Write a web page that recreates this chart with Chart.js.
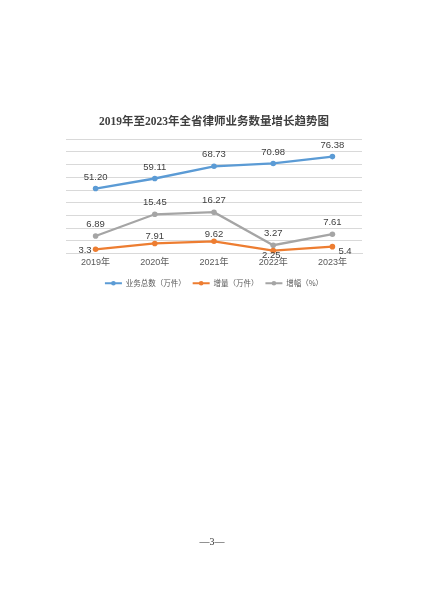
<!DOCTYPE html>
<html>
<head>
<meta charset="utf-8">
<script src="https://cdn.jsdelivr.net/npm/chart.js@4/dist/chart.umd.min.js"></script>
<style>
  html, body { margin: 0; padding: 0; background: #fff; }
  #wrap { position: relative; width: 424px; height: 600px; }
  #lawChart { display: block; }
  #pageNo {
    position: absolute; top: 536px; left: 0; width: 424px;
    text-align: center; font: 10px 'Liberation Serif', serif; color: #333;
  }
</style>
</head>
<body>
<div id="wrap">
  <canvas id="lawChart" width="424" height="600"></canvas>
  <div id="pageNo">—3—</div>
</div>
<script>
// chart data
const years = ['2019年', '2020年', '2021年', '2022年', '2023年'];
const totalCases = [51.20, 59.11, 68.73, 70.98, 76.38];   // 业务总数（万件）
const increase = [3.3, 7.91, 9.62, 2.25, 5.4];            // 增量（万件）
const growthRate = [6.89, 15.45, 16.27, 3.27, 7.61];      // 增幅（%）

// where each series puts its value labels
const labelSpots = {
    0: ['above', 'above', 'above', 'above', 'above'],
    1: ['left', 'above', 'above', 'below', 'right'],
    2: ['above', 'above', 'above', 'above', 'above']
};

/**
 * plugin that writes the value next to every point
 */
const valueLabels = {
    id: 'valueLabels',
    afterDatasetsDraw(chart) {
        const ctx = chart.ctx;
        ctx.save();
        ctx.font = "9.5px 'Liberation Sans', sans-serif";
        ctx.fillStyle = '#404040';
        chart.data.datasets.forEach((ds, i) => {
            const meta = chart.getDatasetMeta(i);
            meta.data.forEach((pt, j) => {
                const text = ds.fmt(ds.data[j]);
                const spot = labelSpots[i][j];
                let x = pt.x, y = pt.y;
                ctx.textBaseline = 'middle';
                ctx.textAlign = 'center';
                if (spot === 'above') {
                    y -= (i === 1 ? 7 : 11.5);
                } else if (spot === 'below') {
                    y += 5; x -= 2;
                } else if (spot === 'left') {
                    ctx.textAlign = 'right'; x -= 4; y += 1.5;
                } else if (spot === 'right') {
                    ctx.textAlign = 'left'; x += 6; y += 4.5;
                }
                ctx.fillText(text, x, y);
            });
        });
        ctx.restore();
    }
};

/**
 * plugin that puts a small marker dot on each legend line
 */
const legendDots = {
    id: 'legendDots',
    afterDraw(chart) {
        const legend = chart.legend;
        if (!legend || !legend.legendHitBoxes) return;
        const ctx = chart.ctx;
        ctx.save();
        legend.legendHitBoxes.forEach((box, i) => {
            ctx.fillStyle = chart.data.datasets[i].borderColor;
            ctx.beginPath();
            ctx.arc(box.left + 8.5, box.top + box.height / 2, 2.3, 0, Math.PI * 2);
            ctx.fill();
        });
        ctx.restore();
    }
};

const ctx = document.getElementById('lawChart').getContext('2d');
const lawChart = new Chart(ctx, {
    type: 'line',
    data: {
        labels: years,
        datasets: [{
            label: '业务总数（万件）',
            data: totalCases,
            borderColor: '#5b9bd5',
            backgroundColor: '#5b9bd5',
            yAxisID: 'y',
            fmt: v => v.toFixed(2)
        }, {
            label: '增量（万件）',
            data: increase,
            borderColor: '#ed7d31',
            backgroundColor: '#ed7d31',
            yAxisID: 'y',
            fmt: v => String(v)
        }, {
            label: '增幅（%）',
            data: growthRate,
            borderColor: '#a5a5a5',
            backgroundColor: '#a5a5a5',
            yAxisID: 'y2',
            fmt: v => String(v)
        }]
    },
    options: {
        responsive: false,
        animation: false,
        devicePixelRatio: 1,
        layout: {
            padding: { left: 66, right: 62, top: 115, bottom: 303 }
        },
        elements: {
            line: { borderWidth: 2.3, tension: 0 },
            point: { radius: 2.8, borderWidth: 0 }
        },
        scales: {
            x: {
                offset: true,
                grid: { display: false, drawTicks: false },
                border: { display: true, color: '#d9d9d9' },
                ticks: {
                    padding: 5,
                    color: '#595959',
                    font: { size: 9, lineHeight: 1, family: "'Liberation Sans', 'Noto Sans CJK SC', sans-serif" }
                }
            },
            y: {
                min: 0,
                max: 90,
                ticks: { display: false, stepSize: 10 },
                border: { display: false },
                grid: { color: '#d9d9d9', drawTicks: false }
            },
            y2: {
                display: false,
                position: 'right',
                min: 0,
                max: 45
            }
        },
        plugins: {
            title: {
                display: true,
                text: '2019年至2023年全省律师业务数量增长趋势图',
                color: '#404040',
                font: { size: 11.5, weight: 'bold', family: "'Liberation Serif', 'Noto Sans CJK SC', serif" },
                padding: { top: 0, bottom: 10.5 }
            },
            legend: {
                position: 'bottom',
                labels: {
                    boxWidth: 17,
                    boxHeight: 2,
                    padding: 7,
                    color: '#595959',
                    font: { size: 7.5, family: "'Noto Sans CJK SC', sans-serif" },
                    generateLabels(chart) {
                        const items = Chart.defaults.plugins.legend.labels.generateLabels(chart);
                        items.forEach(it => { it.lineWidth = 0; });
                        return items;
                    }
                }
            },
            tooltip: { enabled: false }
        }
    },
    plugins: [valueLabels, legendDots]
});
</script>
</body>
</html>
